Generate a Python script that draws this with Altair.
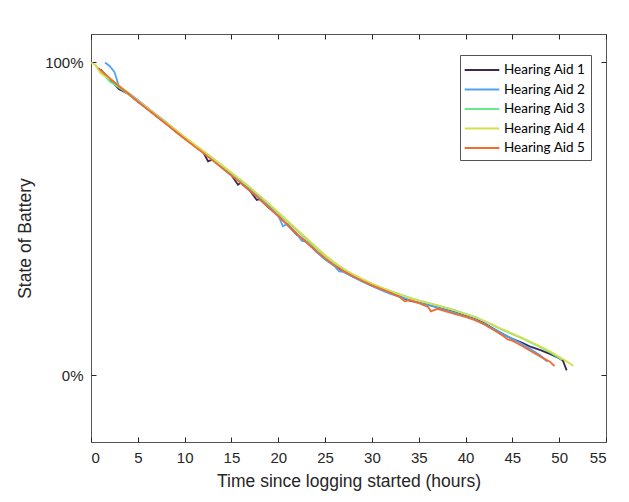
import altair as alt
import pandas as pd

names = ["Hearing Aid 1", "Hearing Aid 2", "Hearing Aid 3", "Hearing Aid 4", "Hearing Aid 5"]
colors = ["#3b2a4f", "#4fa3f7", "#66e88e", "#d8df4f", "#f26b2e"]

t1 = [1, 2, 3, 4, 5, 6, 7, 8, 9, 10, 11, 12, 12.5, 13, 14, 15, 15.7, 16, 17, 17.7, 18, 19, 20, 21, 22, 23, 24, 25,
      26, 27, 28, 29, 30, 31, 32, 33, 34, 35, 36, 37, 38, 39, 40, 41, 42, 43, 44, 45, 46, 47, 48, 49, 50, 50.4, 50.8]
v1 = [97.8, 94.6, 91.4, 89.9, 87.4, 85.2, 82.8, 80.5, 78.0, 75.7, 73.5, 71.2, 68.4, 69.0, 66.4, 63.9, 60.9, 61.5, 58.9, 56.0, 56.3, 53.5, 51.0, 48.0, 44.9, 42.6, 39.8, 37.2,
      35.0, 33.1, 31.5, 30.0, 28.6, 27.4, 26.3, 25.1, 23.8, 23.2, 22.5, 21.7, 20.9, 20.0, 19.0, 18.0, 16.6, 14.8, 13.1, 11.6, 10.4, 9.0, 8.0, 6.8, 5.4, 4.6, 1.5]

t2 = [1.5, 2, 2.5, 3, 4, 5, 6, 7, 8, 9, 10, 11, 12, 13, 14, 15, 16, 17, 18, 19, 20, 20.5, 21, 22, 22.5, 23, 24, 25,
      26, 26.5, 27, 28, 29, 30, 31, 32, 33, 34, 35, 36, 37, 38, 39, 40, 41, 42, 43, 44, 45, 46, 47, 48, 48.7]
v2 = [100.0, 98.8, 97.0, 92.2, 90.3, 88.0, 85.6, 83.3, 81.0, 78.5, 76.1, 73.8, 71.6, 69.3, 66.8, 64.3, 62.0, 59.5, 56.8, 54.2, 51.0, 47.6, 48.4, 45.2, 43.0, 42.6, 39.6, 37.0,
      34.9, 33.2, 33.0, 31.4, 29.9, 28.5, 27.2, 26.0, 25.0, 24.1, 23.2, 22.4, 21.6, 20.7, 19.8, 18.8, 17.8, 16.4, 14.7, 13.1, 11.6, 10.0, 8.2, 6.3, 4.3]

t3 = [0.5, 1, 2, 3, 4, 5, 6, 7, 8, 9, 10, 11, 12, 13, 14, 15, 16, 17, 18, 19, 20, 21, 22, 23, 24, 25,
      26, 27, 28, 29, 30, 31, 32, 33, 34, 35, 36, 37, 38, 39, 40, 41, 42, 43, 44, 45, 46, 47, 48, 49, 50, 50.3]
v3 = [99.0, 97.4, 93.9, 92.0, 89.8, 87.5, 85.3, 82.9, 80.7, 78.3, 76.0, 73.7, 71.5, 69.2, 66.9, 64.6, 62.3, 59.9, 57.3, 54.6, 51.9, 49.1, 46.3, 43.5, 40.7, 38.1,
      35.8, 33.8, 32.1, 30.6, 29.2, 28.0, 26.9, 25.8, 24.8, 23.9, 23.1, 22.3, 21.5, 20.6, 19.6, 18.6, 17.3, 15.8, 14.4, 13.1, 11.8, 10.4, 8.9, 7.3, 5.5, 4.8]

t4 = [0, 0.5, 1, 1.5, 2, 3, 4, 5, 6, 7, 8, 9, 10, 11, 12, 13, 14, 15, 16, 17, 18, 19, 20, 21, 22, 23, 24, 25,
      26, 27, 28, 29, 30, 31, 32, 33, 34, 35, 36, 37, 38, 39, 40, 41, 42, 43, 44, 45, 46, 47, 48, 49, 50, 51, 51.5]
v4 = [100.0, 99.2, 96.6, 95.5, 94.8, 92.6, 90.2, 87.8, 85.5, 83.1, 80.8, 78.6, 76.2, 73.9, 71.7, 69.4, 67.1, 64.8, 62.4, 60.0, 57.4, 54.8, 52.1, 49.3, 46.6, 43.9, 41.1, 38.4,
      36.0, 34.0, 32.2, 30.7, 29.3, 28.0, 26.8, 25.7, 24.7, 23.8, 23.0, 22.2, 21.4, 20.5, 19.5, 18.5, 17.3, 16.0, 14.6, 13.3, 12.0, 10.6, 9.2, 7.6, 5.9, 4.0, 2.9]

t5 = [0.8, 1, 2, 3, 4, 5, 6, 7, 8, 9, 10, 11, 12, 13, 14, 15, 16, 17, 18, 19, 20, 21, 22, 23, 24, 25,
      26, 27, 28, 29, 30, 31, 32, 33, 33.5, 34, 35, 36, 36.3, 37, 38, 39, 40, 41, 42, 43, 44, 44.5, 45, 46, 47, 48, 49, 49.5]
v5 = [98.2, 97.6, 95.0, 92.4, 90.0, 87.5, 85.1, 82.8, 80.4, 78.0, 75.6, 73.3, 71.0, 68.6, 66.2, 63.8, 61.4, 58.9, 56.3, 53.6, 50.8, 48.0, 45.2, 42.5, 39.8, 37.3,
      35.1, 33.2, 31.6, 30.1, 28.7, 27.5, 26.3, 24.9, 23.6, 24.0, 23.0, 21.8, 20.4, 21.2, 20.3, 19.4, 18.6, 17.6, 16.2, 14.4, 12.6, 11.4, 11.0, 9.4, 7.6, 5.9, 4.3, 2.9]

x_ticks = [0, 5, 10, 15, 20, 25, 30, 35, 40, 45, 50, 55]
y_ticks = [0, 100]

rows = []
for name, ts, vs in zip(names, [t1, t2, t3, t4, t5], [v1, v2, v3, v4, v5]):
    for i, (t, v) in enumerate(zip(ts, vs)):
        rows.append({"series": name, "t": t, "v": v, "order": i})
df = pd.DataFrame(rows)

xscale = alt.Scale(domain=[0, 55], nice=False, zero=False)
yscale = alt.Scale(domain=[-21.4, 109.1], nice=False, zero=False)

FONT = "Liberation Sans"
AX = "#262626"

common_axis = dict(domain=False, grid=False, tickSize=5, offset=-5, tickColor=AX, tickWidth=1,
                   labelFont=FONT, labelColor=AX, labelFontSize=15, titleFont=FONT,
                   titleColor=AX, titleFontSize=17.5, titleFontWeight="normal")

lines = alt.Chart(df).mark_line(strokeWidth=1.8, clip=True).encode(
    x=alt.X("t:Q", scale=xscale,
            axis=alt.Axis(values=x_ticks, title="Time since logging started (hours)", orient="bottom",
                          labelPadding=8, titlePadding=7, **common_axis)),
    y=alt.Y("v:Q", scale=yscale,
            axis=alt.Axis(values=y_ticks, labelExpr="datum.value + '%'", title="State of Battery",
                          orient="left", labelPadding=8, titlePadding=10, **common_axis)),
    color=alt.Color("series:N", scale=alt.Scale(domain=names, range=colors),
                    legend=alt.Legend(title=None, orient="none", legendX=369, legendY=21,
                                      symbolType="M-2,0H2", symbolSize=300, symbolStrokeWidth=2,
                                      symbolOffset=7, symbolFillColor="transparent",
                                      labelFont="Lato", labelFontSize=13.5, labelColor="#000",
                                      labelOffset=12, padding=5, rowPadding=2.5,
                                      strokeColor="#555", fillColor="#ffffff", cornerRadius=0)),
    order="order:Q",
    detail="series:N",
)

frame_axes = alt.Chart(df).mark_point(opacity=0).encode(
    x=alt.X("t:Q", scale=xscale,
            axis=alt.Axis(values=x_ticks, labels=False, title=None, orient="top", **common_axis)),
    y=alt.Y("v:Q", scale=yscale,
            axis=alt.Axis(values=y_ticks, labels=False, title=None, orient="right", **common_axis)),
)

chart = alt.layer(lines, frame_axes).resolve_axis(x="independent", y="independent").properties(
    width=515, height=408,
    autosize=alt.AutoSizeParams(type="none"),
    padding={"left": 83, "top": 26, "right": 15, "bottom": 50},
    background="#ffffff",
).configure_view(stroke="#555555", strokeWidth=1)

chart.save("out.html", embed_options={"renderer": "svg", "actions": False})
